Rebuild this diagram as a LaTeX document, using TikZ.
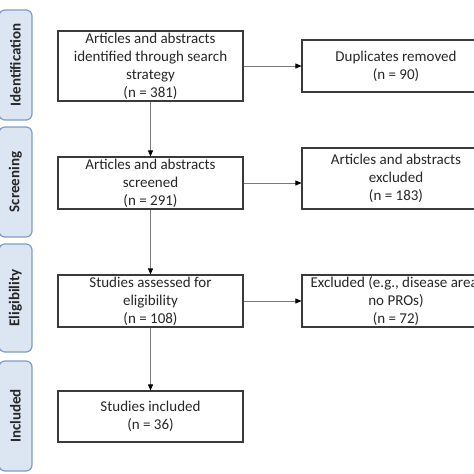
\documentclass[tikz,border=0pt]{standalone}
\usepackage{fontspec}
\setmainfont{Carlito}
\usetikzlibrary{arrows.meta}
\definecolor{phasefill}{HTML}{DCE6F2}
\definecolor{phasedraw}{HTML}{7F9CC8}
\definecolor{boxdraw}{HTML}{3A3A3A}
\definecolor{linegray}{HTML}{7A7A7A}
\begin{document}
\begin{tikzpicture}[x=1pt,y=-1pt,
  phase/.style={draw=phasedraw,fill=phasefill,line width=1.2pt,rounded corners=6pt,
    minimum height=33pt,inner sep=0pt,rotate=90,font=\fontsize{15}{17}\selectfont\bfseries,text=black!85},
  flowbox/.style={draw=boxdraw,line width=1.1pt,inner sep=0pt,align=center,
    font=\fontsize{15}{18}\selectfont,text=black!85},
  conn/.style={draw=linegray,line width=0.7pt,-{Triangle[length=6pt,width=5pt,color=black]}}]
\useasboundingbox (0,0) rectangle (474,474);
\clip (0,0) rectangle (474,474);
% phase labels
\node[phase,minimum width=110pt] (pid) at (15.5,65) {Identification};
\node[phase,minimum width=110pt] (psc) at (15.5,182) {Screening};
\node[phase,minimum width=108pt] (pel) at (15.5,298) {Eligibility};
\node[phase,minimum width=110pt] (pin) at (15.5,416) {Included};
% left column
\node[flowbox,minimum width=185pt,minimum height=70pt] (b1) at (150.5,66) {Articles and abstracts\\identified through search\\strategy\\(n = 381)};
\node[flowbox,minimum width=185pt,minimum height=52pt] (b2) at (150.5,183) {Articles and abstracts\\screened\\(n = 291)};
\node[flowbox,minimum width=185pt,minimum height=52pt] (b3) at (150.5,301) {Studies assessed for\\eligibility\\(n = 108)};
\node[flowbox,minimum width=185pt,minimum height=51pt] (b4) at (150.5,416.5) {Studies included\\(n = 36)};
% right column
\node[flowbox,minimum width=188pt,minimum height=52pt] (r1) at (396,66) {Duplicates removed\\(n = 90)};
\node[flowbox,minimum width=188pt,minimum height=61pt] (r2) at (396,178.5) {Articles and abstracts\\excluded\\(n = 183)};
\node[flowbox,minimum width=188pt,minimum height=52pt] (r3) at (396,301) {Excluded (e.g., disease area,\\no PROs)\\(n = 72)};
% connectors
\draw[conn] (b1) -- (b2);
\draw[conn] (b2) -- (b3);
\draw[conn] (b3) -- (b4);
\draw[conn] (b1.east) -- (b1.east -| r1.west);
\draw[conn] (b2.east) -- (b2.east -| r2.west);
\draw[conn] (b3.east) -- (b3.east -| r3.west);
\end{tikzpicture}
\end{document}
